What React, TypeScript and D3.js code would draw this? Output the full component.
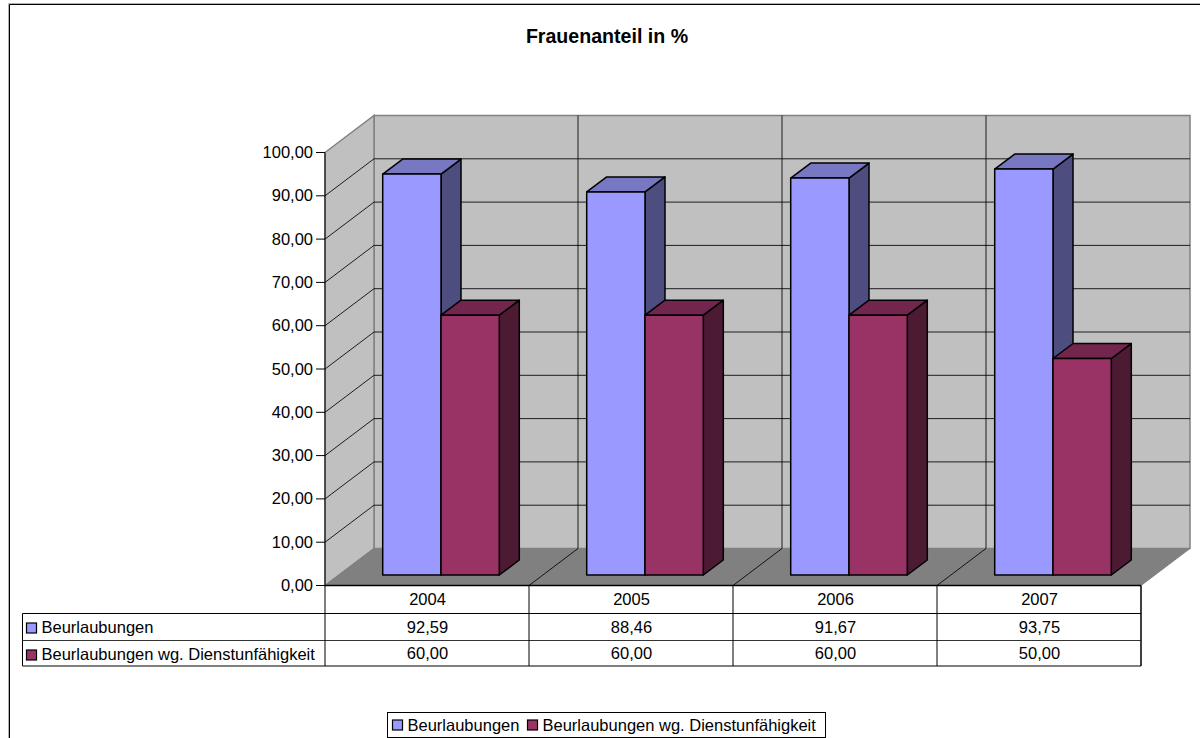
import React from "react";
import * as d3 from "d3";

const title = "Frauenanteil in %";
const years = ["2004", "2005", "2006", "2007"];
const seriesNames = ["Beurlaubungen", "Beurlaubungen wg. Dienstunfähigkeit"];
const beurlaubungen = [92.59, 88.46, 91.67, 93.75];
const dienstunfaehig = [60, 60, 60, 50];
const ticks = [0, 10, 20, 30, 40, 50, 60, 70, 80, 90, 100];
const seriesValues = [beurlaubungen, dienstunfaehig];
const fronts = ["#9999ff", "#993366"];
const tops = ["#7777c2", "#73264d"];
const sides = ["#4d4d80", "#4d1a33"];

const fmt = (v: number) => v.toFixed(2).replace(".", ",");

export default function App() {
  const font = "'Liberation Sans', Arial, sans-serif";
  const x = d3.scaleBand<string>().domain(years).range([325, 1141]);
  const yFront = d3.scaleLinear().domain([0, 100]).range([585.5, 152.5]);
  const depthX = 49, depthY = -37;
  const yBack = (v: number) => yFront(v) + depthY;
  const barBase = -10.5; // bars stand slightly behind the front edge
  const barDx = 13.5;
  const bw = 58.3, bdx = 20, bdy = -15;
  const barLeft = (c: string, s: number) => x(c)! + barDx + (x.bandwidth() - 2 * bw) / 2 + s * bw + 0.5;
  const rows = [585.5, 613.5, 640.5, 666];
  const fs = 16.5;
  return (
    <svg width={1200} height={738} style={{ position: "absolute", left: 0, top: 0, background: "#fff" }} fontFamily={font}>
      <path d="M8.5 738V3.5H1200" fill="none" stroke="#b0b0b0" strokeWidth={1} />
      <path d="M9.5 738V4.5H1200" fill="none" stroke="#000" strokeWidth={1} />
      <text x={607} y={43} textAnchor="middle" fontSize={19.6} fontWeight="bold" fill="#000">{title}</text>

      {/* back wall, side wall, floor */}
      <path d={`M374 ${yBack(100)}H1190V${yBack(0)}H374Z`} fill="#c0c0c0" stroke="#808080" strokeWidth={1.5} />
      <path d={`M325 ${yFront(100)}L374 ${yBack(100)}V${yBack(0)}L325 ${yFront(0)}Z`} fill="#c0c0c0" stroke="#808080" strokeWidth={1.5} />
      <path d={`M325 ${yFront(0)}L374 ${yBack(0)}H1190L1141 ${yFront(0)}Z`} fill="#808080" stroke="#808080" />

      {/* gridlines */}
      {ticks.slice(1, -1).map((t) => (
        <path key={t} d={`M325 ${yFront(t)}L374 ${yBack(t)}H1190`} fill="none" stroke="#000" strokeWidth={1} opacity={0.85} />
      ))}
      {years.slice(1).map((c) => (
        <g key={c}>
          <path d={`M${x(c)! + depthX} ${yBack(100)}V${yBack(0)}L${x(c)!} ${yFront(0)}`} fill="none" stroke="#000" strokeWidth={1} opacity={0.85} />
        </g>
      ))}
      <path d={`M325 ${yFront(100)}V${yFront(0)}`} stroke="#000" strokeWidth={1} />

      {/* y axis */}
      {ticks.map((t) => (
        <g key={t}>
          <line x1={316} x2={325} y1={yFront(t)} y2={yFront(t)} stroke="#000" strokeWidth={1} />
          <text x={313} y={yFront(t) + 5.5} textAnchor="end" fontSize={fs} fill="#000">{fmt(t)}</text>
        </g>
      ))}

      {/* bars */}
      {years.map((c, i) =>
        seriesValues.map((vals, s) => {
          const l = barLeft(c, s), r = l + bw;
          const b = yFront(0) + barBase;
          const tp = yFront(vals[i]) + barBase;
          return (
            <g key={c + s} stroke="#000" strokeWidth={1.5} strokeLinejoin="round">
              <path d={`M${r} ${tp}L${r + bdx} ${tp + bdy}V${b + bdy}L${r} ${b}Z`} fill={sides[s]} />
              <path d={`M${l} ${tp}L${l + bdx} ${tp + bdy}H${r + bdx}L${r} ${tp}Z`} fill={tops[s]} />
              <rect x={l} y={tp} width={bw} height={b - tp} fill={fronts[s]} />
            </g>
          );
        })
      )}

      {/* data table */}
      <path d={`M325 ${rows[0]}H1141V${rows[3]}H22.5V${rows[1]}H1141`} fill="#fff" stroke="#000" strokeWidth={1} />
      <path d={`M22.5 ${rows[2]}H1141`} stroke="#333" strokeWidth={1} />
      {[325, ...years.slice(1).map((c) => x(c)!), 1141].map((px) => (
        <line key={px} x1={px} x2={px} y1={rows[0]} y2={rows[3]} stroke="#000" strokeWidth={1} />
      ))}
      <line x1={325} x2={1141} y1={rows[0]} y2={rows[0]} stroke="#000" strokeWidth={1.5} />
      {years.map((c, i) => (
        <g key={c} fontSize={fs} textAnchor="middle" fill="#000">
          <text x={x(c)! + x.bandwidth() / 2 + 0.5} y={605}>{c}</text>
          <text x={x(c)! + x.bandwidth() / 2 + 0.5} y={633}>{fmt(beurlaubungen[i])}</text>
          <text x={x(c)! + x.bandwidth() / 2 + 0.5} y={659}>{fmt(dienstunfaehig[i])}</text>
        </g>
      ))}
      {seriesNames.map((n, s) => (
        <g key={n}>
          <rect x={26.5} y={[623, 650][s]} width={10} height={10} fill={fronts[s]} stroke="#000" strokeWidth={1.2} />
          <text x={41.5} y={[633, 660][s]} fontSize={fs} fill="#000">{n}</text>
        </g>
      ))}

      {/* legend */}
      <rect x={387.5} y={712.5} width={438} height={25} fill="#fff" stroke="#000" strokeWidth={1} />
      {seriesNames.map((n, s) => (
        <g key={n}>
          <rect x={[392.5, 527.5][s]} y={720} width={10} height={10} fill={fronts[s]} stroke="#000" strokeWidth={1.2} />
          <text x={[407.5, 542.5][s]} y={731} fontSize={fs} fill="#000">{n}</text>
        </g>
      ))}
    </svg>
  );
}
